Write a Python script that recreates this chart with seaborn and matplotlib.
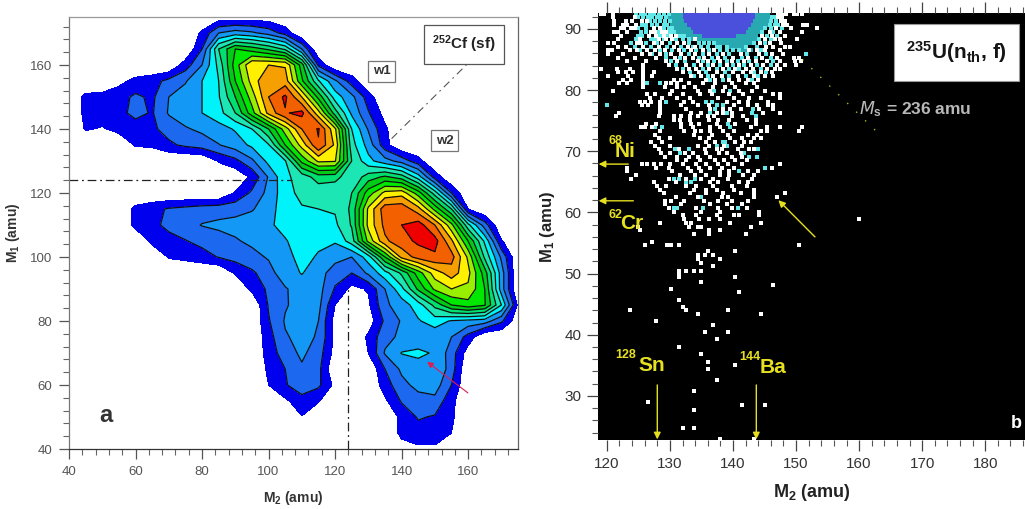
import numpy as np
import pandas as pd
import matplotlib
matplotlib.use("Agg")
import matplotlib.pyplot as plt
from matplotlib.colors import ListedColormap
from matplotlib.patches import Rectangle
from matplotlib.ticker import MultipleLocator
import seaborn as sns

# ---------- left panel: contour level read at M2 = 40,45,...,175 for each M1 row ----------
m2_cols = np.arange(40, 180, 5)
m1_rows = np.arange(175, 35, -5)
r175 = (85, [.4, .4, .4, .4])
r170 = (80, [1.2, 3, 3.5, 3.2, 2.6, 1.6])
r165 = (80, [2, 6, 8, 7.5, 6.8, 5.8, 3, 0])
r160 = (75, [1.5, 3, 5.3, 8.5, 10.9, 11, 10.9, 7.5, 1.8])
r155 = (55, [.7, 1.3, 1.6, 2.3, 2.9, 4, 5, 8, 10.4, 12, 11.5, 8.2, 5.1, 3.2, 1.5])
r150 = (45, [1.3, 1.4, 1.6, 2.2, 1.8, 3, 3.5, 4, 4.9, 7, 9.5, 12, 13.2, 11, 7.7, 4.5, 3.3, 1.5])
r145 = (45, [1.3, 1.5, 1.7, 2.3, 1.9, 3.1, 3.5, 4, 4.6, 6, 8.6, 11.3, 12.9, 13.3, 10.4, 6.5, 3.8, 2.1, .6])
r140 = (45, [1.1, .9, 1.3, 1.5, 1.8, 2.4, 2.9, 3.2, 3.6, 4.1, 5, 7, 9.5, 12, 13.1, 10.2, 5, 2.9, 1.2])
r135 = (55, [.2, 1.1, 1.2, 1.8, 2.2, 2.5, 2.95, 3.5, 4.2, 4.9, 8, 10.4, 12.9, 10.8, 5.4, 3.6, 1.4])
r130 = (85, [1.1, 1.7, 2.8, 4.3, 4.9, 8.3, 10.2, 10.1, 6, 4.3, 3.4, 2.6, 1.4])
r125 = (90, [.2, 1.2, 3.1, 4.8, 5.4, 6.5, 6.4, 5.2, 6.5, 7.2, 6.5, 4.5, 1.6])
r120 = (90, [1.1, 2.2, 3.3, 4.6, 5.3, 5.3, 5.1, 6, 8.5, 10.3, 10.6, 8.5, 5.5, 2])
r115 = (60, [1.3, 1.7, 2.1, 2.3, 2.5, 2.6, 2.7, 2.9, 3.6, 4.5, 4.9, 5, 5.1, 6.2, 10.2, 12.6, 12.7, 11.4, 8.7, 6, 1])
r110 = (60, [1.3, 1.7, 2.3, 2.6, 3.05, 3.2, 3.3, 3.6, 3.9, 4.2, 4.4, 4.5, 4.8, 6.1, 10.3, 12.3, 13, 13.5, 12, 9.3, 5.3, 2.5])
r105 = (65, [1.3, 1.6, 1.95, 2.3, 2.6, 2.9, 3.2, 3.6, 3.95, 4.3, 4.2, 4.1, 5.5, 9.3, 11.8, 12.6, 13.2, 13.4, 11.2, 8, 4.8, 1.1])
r100 = (70, [1.1, 1.3, 1.6, 2.05, 2.4, 2.7, 3.1, 3.7, 4.3, 3.9, 3.4, 3, 4.5, 8, 11.3, 12.4, 12.8, 12.4, 9.8, 5.8, 2.8])
r95 = (90, [1.1, 1.8, 2.6, 3.6, 4.05, 3.5, 2.4, 2, 3.2, 4.6, 6.2, 8.5, 10.5, 11.5, 10.3, 7.5, 3.5])
r90 = (95, [1.25, 2.2, 2.9, 3.5, 3.4, 1.9, .7, 1.1, 3, 4.7, 7.2, 9.2, 10, 9.8, 8, 3.5])
r85 = (100, [2.1, 2.9, 3.4, 3.3, 1, 0, .8, 2.8, 3.5, 4.5, 6.3, 8, 8.6, 8.1, 5, .8])
r80 = (100, [1.9, 3.1, 3.3, 3, .6, 0, .4, 2.2, 3.1, 3.9, 4.5, 3.9, 3.7, 3.5, 2.2, .3])
r75 = (100, [1.6, 2.9, 3.3, 2.9, .7, 0, 1.2, 2.7, 3.2, 3.4, 3.3, 3, 1.6])
r70 = (100, [1.45, 2.5, 3.2, 2.5, .6, 0, 1, 3.1, 4.05, 4.2, 3.9, 2.5, .5])
r65 = (100, [1.2, 2, 2.85, 2.3, 0, 0, 0, 2, 3.2, 3.6, 4, 2.5])
r60 = (100, [1, 1.9, 2.6, 2.2, .7, 0, 0, 1.5, 2.7, 3.3, 3.5, 2])
r55 = (105, [.8, 1.6, 1.1, 0, 0, 0, .8, 2.1, 2.6, 2.7, 1.3])
r50 = (110, [.95, 0, 0, 0, 0, 0, 1.3, 2.1, 1.9, 1.2])
r45 = (140, [1.3, 1.6, 1.6, 1])
r40 = (140, [.5, .8, .8])
level_rows = [r175, r170, r165, r160, r155, r150, r145, r140, r135, r130, r125, r120,
              r115, r110, r105, r100, r95, r90, r85, r80, r75, r70, r65, r60, r55, r50, r45, r40]
band_colors = ['#ffffff', '#0000ee', '#1c68ee', '#1498f5', '#00f2fa', '#1ce6b4', '#00e070',
               '#00cc18', '#00e800', '#98f000', '#fff000', '#f5a000', '#f26000', '#ee0000']

diag_m2 = [137, 161]
diag_m1 = [137, 161.6]
xtick_a = [40, 60, 80, 100, 120, 140, 160]
ytick_a = [40, 60, 80, 100, 120, 140, 160]

# ---------- right panel: cells read row by row (M1 : list of M2) ----------
white_cells = {
 92.5: [119, 119.5, 121, 147.2, 147.8, 148.4, 149.6, 150.2, 151],
 91.9: [121, 147.2, 147.8, 124.4],
 91.3: [121.2, 123, 124, 147.6, 148.2, 125.5, 126.3],
 90.7: [121.1, 122.6, 123.2, 124.6, 148, 148.6, 151.1, 151.7],
 90.1: [122.2, 122.8, 123.8, 124.4, 127.4, 128.4, 146.9, 149.2, 153.4],
 89.5: [121.2, 121.8, 123.2, 127, 127.6, 128.8, 129.4, 145.8, 147.4, 151],
 88.9: [122.2, 126.7, 127.8, 129, 130.2, 131, 144.6, 146.2, 148.2],
 88.3: [121.8, 125.2, 128.2, 129.4, 130.4, 133.9, 145, 146.7, 147.4, 150.2],
 87.7: [120.2, 121.2, 124.8, 125.4, 127.4, 128.8, 131.2, 132.2, 144.3, 145.8, 147.6],
 87.1: [121.8, 123, 125.8, 128.2, 130.6, 132.8, 134, 145.2, 146.4, 148.2, 149],
 86.5: [120.2, 120.8, 123.6, 124.8, 126.4, 127.6, 129.2, 131.4, 133.4, 135.2, 137, 142.6, 143.8, 145, 147.4],
 85.9: [120.2, 122.6, 125.6, 126.8, 128.4, 130.2, 131.8, 134, 136.2, 138.4, 141.2, 144.2, 146.2, 148],
 85.3: [121.8, 124.4, 127.8, 130.8, 132.4, 133.6, 135.4, 137.6, 140, 142.4, 144.6, 147, 149.6, 150.4],
 84.7: [123.2, 126.2, 129.4, 131.2, 134.4, 136, 138, 139.8, 141.8, 143.6, 145.4, 147.4, 149.8, 150.8],
 84.1: [125.8, 129.8, 132.6, 135, 136.8, 139, 141, 142.8, 144.8, 147, 148.2, 150],
 83.5: [119, 121.6, 123.6, 125.8, 131.2, 133, 134.2, 136.2, 138.4, 140.4, 142, 143.2, 145.4, 146.6, 147.4],
 82.9: [121.8, 123, 124.2, 125.8, 127.4, 132, 134.6, 137.4, 140, 141.6, 142.8, 144.4, 146.2],
 82.3: [120.2, 123.4, 125.8, 127.2, 133.4, 135, 136.8, 138.2, 140.8, 143.4, 145, 146.4],
 81.7: [122.6, 123.8, 125.8, 130.6, 131.8, 135.8, 137.2, 139.4, 141, 142.4, 144],
 81.1: [122, 123.2, 125.8, 129.4, 130.2, 131.2, 133, 135.2, 137.2, 139.8, 142, 143.4],
 80.5: [125.8, 129.2, 131.2, 132.2, 134, 136.8, 138.8, 140.4, 143.8],
 79.9: [121, 130.4, 134.4, 136.4, 138.4, 141, 143, 145],
 79.3: [126.4, 127.6, 130, 132, 134.8, 136.6, 139.4, 141.6, 146.4, 147.4],
 78.7: [126.8, 128.8, 131.2, 133.2, 137.6, 140.2, 142.6, 144.4, 147.4],
 78.1: [125.2, 126, 127, 128.4, 132.2, 133.6, 139, 141, 142.4, 145.6],
 77.5: [125.6, 126.6, 128.4, 131.8, 134.4, 136.2, 140.2, 142.4, 143.8, 145.6, 146.4],
 76.9: [128.4, 132.6, 136.4, 138.4, 139.6, 141.2, 144.2, 146.4],
 76.3: [122, 128.4, 133.4, 135, 137.4, 138.4, 139.8, 144.8, 147.4],
 75.7: [121.4, 128.2, 130.6, 131.8, 133.2, 134.4, 136, 137, 139.8, 141.6],
 75.1: [130.6, 131.6, 133.2, 136.2, 137.6, 139.4, 142.2, 143.6],
 74.5: [126.2, 127.8, 131.8, 133.4, 134.6, 137.4, 140.4, 143.6],
 73.9: [125.4, 126, 127.2, 131.8, 133.6, 136.4, 138, 142.8, 145.4, 147.4, 151],
 73.3: [128.4, 132.2, 134, 135, 136.4, 138.4, 140.2, 144.4, 145.4, 150.4],
 72.7: [127.6, 133.8, 136.6, 139.2, 142.4, 143.8],
 72.1: [128.2, 130, 134.8, 136.2, 139.6, 141.4, 143.4, 144.4],
 71.5: [127, 128.8, 135.8, 137.2, 140.4, 141.8, 142.8],
 70.9: [127.6, 130, 134.4, 136.2, 138.6, 141.4],
 70.3: [128.2, 131.4, 135.6, 137.4, 138.2, 140.8, 142.6, 143.4],
 69.7: [128.6, 130, 132.4, 133.6, 135.8, 137.8, 139, 141.2],
 69.1: [129.2, 131.2, 133, 134.4, 136.4, 139.8, 141.4],
 68.5: [131.2, 132.6, 134.8, 137.2, 138.6, 140.4, 142.2],
 67.9: [125.6, 126.4, 127.4, 128.6, 130, 132, 134.2, 135.8, 137.6, 139.2, 141.4, 147.4],
 67.3: [123.2, 127.8, 129.8, 132.8, 134.6, 136.4, 138.2, 140.2, 146.2],
 66.7: [123.2, 130.4, 133.4, 135, 138, 139.4, 142.4, 144],
 66.1: [124.6, 131.6, 134, 135.8, 138, 139.4, 141.6, 143.4],
 65.5: [123.8, 129.8, 132.6, 135, 136.8, 139.2, 143],
 64.9: [127.4, 131, 136.4, 137.6, 141, 142.4],
 64.3: [128, 129.4, 132.6, 134.2, 136.8, 142.2, 139.8],
 63.7: [128.4, 133.8, 135.8, 137.4, 140.2, 143.4],
 63.1: [129, 133.2, 135.8, 138.4, 141.2, 143.4, 148.2],
 62.5: [131, 134.4, 138.2, 139.2, 143.4, 147],
 61.9: [129.2, 130.2, 132.2, 135.4, 137.6, 139.8, 142.4],
 61.3: [129.2, 131.8, 136.4, 139, 141.4],
 60.7: [129.8, 134.2, 137.6, 139.8, 142.2],
 60.1: [130.6, 135, 138, 144.2],
 59.5: [132, 134.2, 137.4, 140.2, 141, 144.2],
 58.9: [132.2, 134.6, 136.2, 138, 160],
 58.3: [128.4, 132.6, 133.4, 139.6, 144.4],
 57.7: [125, 133, 134.4, 135, 142.8],
 57.1: [125.2, 136.2, 138],
 56.4: [133.8, 136.2, 142, 136.2],
 55.2: [127.2],
 54.6: [126, 129.6, 130.2, 131.4, 150.4],
 53.7: [136.1, 140.4],
 53.0: [135.5, 136.8, 134.4],
 52.4: [134.4, 138],
 51.7: [135],
 51.2: [136.8],
 50.5: [131.4, 132.6, 133.8, 135],
 50.0: [131.4],
 49.5: [131.4],
 49.4: [140.4],
 48.7: [135],
 48.1: [146.3],
 47.5: [130.2],
 47.0: [140.9],
 45.7: [131.4],
 44.6: [132],
 44.0: [123.6, 132.6, 139.2],
 43.4: [134.4, 144.5],
 42.2: [127.8],
 41.6: [136.8],
 40.4: [135.5, 139.2],
 39.3: [137.4],
 38.0: [131.4],
 36.8: [135],
 35.6: [136.1],
 35.0: [140.4],
 34.4: [136.1],
 32.6: [137.4],
 30.8: [133.8],
 29.0: [126.6],
 28.5: [141.5, 145.1],
 27.7: [133.8],
 24.8: [132, 133.8],
 23.0: [138, 143.3],
}
cyan_cells = {
 92.5: [124.6, 125.4, 126, 126.8, 127.4, 128.2, 129, 129.8],
 91.9: [125, 125.8, 126.6, 127.2, 128, 128.6, 129.4, 146.2, 146.8],
 91.3: [126.8, 127.6, 128.4, 129.2, 130, 146, 146.8],
 90.7: [125.6, 126.2, 127.2, 128, 129, 129.6, 145.8, 146.6, 147.2],
 90.1: [125, 126.2, 129, 129.8, 130.4, 145, 146, 147.8],
 89.5: [125.4, 126.2, 128.2, 130, 130.6, 144.6, 146.4],
 88.9: [125, 125.6, 128.4, 129.6, 131.6, 132.2, 145.4, 147],
 88.3: [124.6, 127, 127.6, 129, 131, 132, 133, 144.2, 146],
 87.7: [123.8, 126.2, 128, 130, 133, 134.6, 135.4, 136.2, 137, 143.4, 145],
 87.1: [124.4, 127, 129.6, 131.8, 133.6, 135, 136, 137.4, 138, 139, 142, 143.8],
 86.5: [125.2, 128.4, 130.4, 132.2, 134.2, 136.2, 138, 139, 140, 141, 144.4],
 85.9: [127.2, 129.4, 133, 135.2, 137.4, 139.4, 142.2, 145.2, 151.5],
 85.3: [129.4, 131.6, 134.6, 136.6, 138.8, 141.4, 143.6, 146],
 84.7: [130.2, 132.4, 135.2, 137, 139, 140.8, 142.6, 146.4],
 84.1: [131, 133.8, 136, 138, 140, 141.8, 143.8, 146],
 83.5: [132, 135.2, 137.4, 139.4, 141, 144.4],
 82.9: [133.2, 135.8, 138.8, 143.4, 145.2],
 82.3: [133.8, 136, 139.4, 142, 144],
 81.7: [136.4, 138.4, 143],
 81.1: [126.4, 128.4],
 79.9: [137, 139.6],
 78.1: [129.4, 136.6, 135.8],
 77.5: [120, 137.4, 138.4],
 76.9: [137.2, 143.2],
 76.3: [136.4, 143, 139],
 75.7: [143.6],
 74.5: [139.2],
 73.9: [127.6, 128.8, 139.6],
 71.5: [138.4, 138.8],
 70.9: [137.4, 139],
 70.3: [130.8, 133, 144],
 69.7: [131.6, 141.8],
 69.1: [142.6, 143.8],
 67.3: [145],
 66.7: [141],
 65.5: [130.6, 131.4, 134],
 64.9: [132.6, 133.4],
 62.5: [135],
 60.7: [130.6, 131.2, 135.2, 140.8],
}
teal_spans = {92.5: (130, 146), 91.9: (130, 146), 91.3: (130.6, 145.6), 90.7: (130.4, 145.4),
              90.1: (131, 144.8), 89.5: (131.2, 144.4), 88.9: (132.8, 144), 88.3: (133.6, 143.8),
              87.7: (137.6, 143), 87.1: (139.4, 141.8), 86.5: (141, 143)}
blue_spans = {92.5: (132.4, 143.4), 91.9: (132.4, 143.4), 91.3: (132.6, 143), 90.7: (133, 142.8),
              90.1: (133.6, 142.4), 89.5: (134, 142.2), 88.9: (135.4, 140.6)}
xtick_b = [120, 130, 140, 150, 160, 170, 180]
ytick_b = [30, 40, 50, 60, 70, 80, 90]


def cells(table):
    return pd.DataFrame([(m2, m1) for m1, vals in table.items() for m2 in vals], columns=['M2', 'M1'])


def span_cells(table):
    return pd.DataFrame([(m2, m1) for m1, (a, b) in table.items()
                         for m2 in np.arange(a, b + .01, .6)], columns=['M2', 'M1'])


sns.set_theme(style='white')
plt.rcParams['font.family'] = ['Liberation Sans', 'DejaVu Sans']
plt.rcParams['mathtext.default'] = 'regular'

W, H = 1025, 509
fig = plt.figure(figsize=(W / 100, H / 100), dpi=100, facecolor='white')


def box(l, t, r, b):
    return [l / W, 1 - b / H, (r - l) / W, (b - t) / H]


# ---------------- left ----------------
ax = fig.add_axes(box(69, 17, 518, 449))
Z = np.zeros((len(m1_rows), len(m2_cols)))
for i, (start, vals) in enumerate(level_rows):
    j = int((start - 40) / 5)
    Z[i, j:j + len(vals)] = vals
levels = np.arange(0, 15) + 0.0
levels[0] = -1
ax.contourf(m2_cols, m1_rows, Z, levels=levels, colors=band_colors + ['#ee0000'][:0], extend='neither')
ax.contour(m2_cols, m1_rows, Z, levels=np.arange(2, 14), colors='#101010', linewidths=0.9)
ax.set_xlim(40, 175)
ax.set_ylim(40, 175)
ax.set_xticks(xtick_a)
ax.set_yticks(ytick_a)
ax.xaxis.set_minor_locator(MultipleLocator(4))
ax.yaxis.set_minor_locator(MultipleLocator(4))
ax.tick_params(which='major', bottom=True, left=True, length=7, width=0.9, color='#555555',
               labelsize=9.5, labelcolor='#555555', pad=5)
ax.tick_params(which='minor', bottom=True, left=True, length=4, width=0.8, color='#666666')
for s, c in zip(['top', 'right', 'left', 'bottom'], ['#999999', '#666666', '#777777', '#333333']):
    ax.spines[s].set_color(c)
    ax.spines[s].set_linewidth(0.9)
ax.set_xlabel('M$_2$ (amu)', fontsize=10, fontweight='bold', color='#333333', labelpad=8)
ax.set_ylabel('M$_1$ (amu)', fontsize=10, fontweight='bold', color='#333333', labelpad=6)
ax.plot([40, 107], [124, 124], color='#222222', lw=0.9, ls=(0, (7, 3, 1.5, 3)))
ax.plot([124, 124], [40, 91], color='#222222', lw=0.9, ls=(0, (7, 3, 1.5, 3)))
ax.plot(diag_m2, diag_m1, color='#555555', lw=0.8, ls=(0, (7, 4, 1.5, 4)))
ax.annotate('', xy=(147, 67.8), xytext=(160.6, 57),
            arrowprops=dict(arrowstyle='-|>', color='#dc1e50', lw=0.8, mutation_scale=9))
ax.text(51, 50.5, 'a', fontsize=17, fontweight='bold', color='#333333', ha='center', va='center')
bx = dict(fc='white', ec='#777777', lw=0.9, boxstyle='square,pad=0.35')
ax.text(134, 158, 'w1', fontsize=9.5, fontweight='bold', color='#333333', ha='center', va='center', bbox=bx)
ax.text(153, 136.4, 'w2', fontsize=9.5, fontweight='bold', color='#333333', ha='center', va='center', bbox=bx)
ax.text(158.8, 166.4, '$^{252}$Cf (sf)', fontsize=11, fontweight='bold', color='#222222',
        ha='center', va='center', bbox=dict(fc='white', ec='#555555', lw=0.9, boxstyle='square,pad=0.55'))

# ---------------- right ----------------
bx2 = fig.add_axes(box(598, 13, 1025, 440), facecolor='black')
sq = dict(marker='s', s=9, linewidth=0, legend=False, ax=bx2)
sns.scatterplot(data=span_cells(teal_spans), x='M2', y='M1', color='#28a8b0', **sq)
sns.scatterplot(data=span_cells(blue_spans), x='M2', y='M1', color='#4a50dc', **sq)
sns.scatterplot(data=cells(cyan_cells), x='M2', y='M1', color='#62e8e8', **sq)
sns.scatterplot(data=cells(white_cells), x='M2', y='M1', color='white', **sq)
bx2.set_xlim(118.6, 186.3)
bx2.set_ylim(22.8, 92.6)
bx2.set_xticks(xtick_b)
bx2.set_yticks(ytick_b)
bx2.xaxis.set_minor_locator(MultipleLocator(2))
bx2.yaxis.set_minor_locator(MultipleLocator(2))
bx2.tick_params(which='major', bottom=True, top=True, left=True, length=8, width=0.9, color='#444444',
                labelsize=11, labelcolor='#333333', pad=4)
bx2.tick_params(which='minor', bottom=True, top=True, left=True, length=4, width=0.8, color='#555555')
for s in bx2.spines.values():
    s.set_visible(False)
bx2.set_xlabel('M$_2$ (amu)', fontsize=13, fontweight='bold', color='#222222', labelpad=8, x=0.5)
bx2.set_ylabel('M$_1$ (amu)', fontsize=12, fontweight='bold', color='#222222', labelpad=5)

yl = '#e6e020'
t = dict(color=yl, fontweight='bold', va='center', ha='left')
bx2.text(120.2, 71.6, '68', fontsize=9, **t)
bx2.text(121.3, 69.9, 'Ni', fontsize=15, **t)
bx2.text(120.3, 59.6, '62', fontsize=9, **t)
bx2.text(122.1, 58.2, 'Cr', fontsize=15, **t)
bx2.text(121.4, 36.7, '128', fontsize=9, **t)
bx2.text(125, 34.9, 'Sn', fontsize=15, **t)
bx2.text(141, 36.4, '144', fontsize=9, **t)
bx2.text(144.3, 34.6, 'Ba', fontsize=15, **t)
ar = dict(arrowstyle='-|>', color=yl, lw=1, mutation_scale=10, shrinkA=0, shrinkB=0)
bx2.annotate('', xy=(118.7, 67.9), xytext=(123.4, 67.9), arrowprops=ar)
bx2.annotate('', xy=(118.7, 61.9), xytext=(124.2, 61.9), arrowprops=ar)
bx2.annotate('', xy=(147.2, 62), xytext=(153, 56), arrowprops=ar)
bx2.annotate('', xy=(128, 22.9), xytext=(128, 31.8), arrowprops=ar)
bx2.annotate('', xy=(143.7, 22.9), xytext=(143.7, 31.8), arrowprops=ar)
bx2.plot([151, 163], [85, 73], color=yl, lw=1, ls=(0, (1, 8)), alpha=0.8)
bx2.text(160, 76.9, '$\\mathit{M}_{s}$ = 236 amu', fontsize=12.5, fontweight='bold', color='#b8b8b8',
         va='center', ha='left')
bx2.add_patch(Rectangle((165.5, 81.5), 19.9, 9.3, fc='white', ec='#999999', lw=0.8, zorder=5))
bx2.text(175.45, 86.2, '$^{235}$U(n$_{th}$, f)', fontsize=15, fontweight='bold', color='#151515',
         ha='center', va='center', zorder=6)
bx2.text(184.9, 25.5, 'b', fontsize=13, fontweight='bold', color='white', ha='center', va='center')

fig.savefig('out.png', dpi=100, facecolor='white')
